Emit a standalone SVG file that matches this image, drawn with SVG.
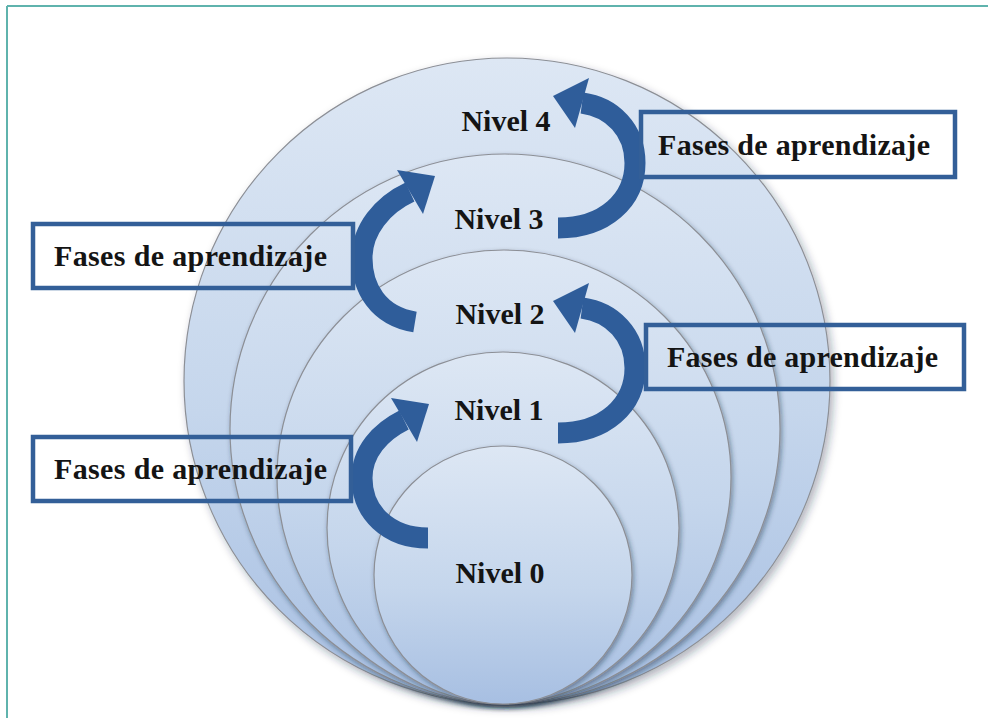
<svg xmlns="http://www.w3.org/2000/svg" width="988" height="718" viewBox="0 0 988 718">
<defs>
<linearGradient id="gFill" x1="0" y1="0" x2="0" y2="1">
<stop offset="0" stop-color="#dde7f4"/>
<stop offset="0.55" stop-color="#c5d6ec"/>
<stop offset="1" stop-color="#a7bfe2"/>
</linearGradient>
<filter id="sh" x="-10%" y="-10%" width="125%" height="125%">
<feDropShadow dx="1.5" dy="2.5" stdDeviation="2.5" flood-color="#1a2a40" flood-opacity="0.45"/>
</filter>
<filter id="shOuter" x="-10%" y="-10%" width="125%" height="125%">
<feDropShadow dx="3" dy="4" stdDeviation="4" flood-color="#1a2a40" flood-opacity="0.35"/>
</filter>
</defs>
<style>
.lvl{fill:url(#gFill);stroke:#8c8f96;stroke-width:1.2}
.box{fill:none;stroke:#335f98;stroke-width:4.5}
.shaft{fill:none;stroke:#2f5d9a;stroke-width:21}
.head{fill:#2f5d9a}
.t{font-family:"Liberation Serif","Times New Roman",serif;font-weight:bold;font-size:30px;fill:#141414}
.nv{text-anchor:middle}
</style>
<rect width="988" height="718" fill="#ffffff"/>
<g id="frame" stroke="#5fb3ad" stroke-width="2" fill="none">
<line x1="7" y1="6" x2="988" y2="6"/>
<line x1="7" y1="6" x2="7" y2="718"/>
</g>
<g id="nivel4"><circle class="lvl" cx="507" cy="381" r="323" filter="url(#shOuter)"/></g>
<g id="nivel3"><circle class="lvl" cx="505" cy="429" r="275" filter="url(#sh)"/></g>
<g id="nivel2"><circle class="lvl" cx="504" cy="477" r="227" filter="url(#sh)"/></g>
<g id="nivel1"><circle class="lvl" cx="503" cy="528" r="176" filter="url(#sh)"/></g>
<g id="nivel0"><circle class="lvl" cx="503" cy="575" r="129" filter="url(#sh)"/></g>
<g id="labels">
<text class="t nv" x="506" y="131">Nivel 4</text>
<text class="t nv" x="499" y="229">Nivel 3</text>
<text class="t nv" x="500" y="324">Nivel 2</text>
<text class="t nv" x="499" y="420">Nivel 1</text>
<text class="t nv" x="500" y="583">Nivel 0</text>
</g>
<g id="connectors">
<g id="arrow-tr">
<path class="shaft" d="M558 228 C605 228 635 200 635 163 C635 130 612 107 582 103"/>
<polygon class="head" points="589,78 553,96 575,128"/>
</g>
<g id="arrow-ml">
<path class="shaft" d="M415 322 C378 316 362 288 362 258 C362 230 382 205 410 192"/>
<polygon class="head" points="397,170 435,176 423,214"/>
</g>
<g id="arrow-mr">
<path class="shaft" d="M558 433 C605 433 635 405 635 368 C635 335 612 312 582 308"/>
<polygon class="head" points="589,283 553,301 575,333"/>
</g>
<g id="arrow-bl">
<path class="shaft" d="M428 538 C388 538 362 512 362 478 C362 452 380 432 404 420"/>
<polygon class="head" points="391,398 429,404 417,442"/>
</g>
</g>
<g id="box-tr">
<rect class="box" x="641" y="112" width="314" height="65"/>
<text class="t" x="658" y="155" textLength="272" lengthAdjust="spacing">Fases de aprendizaje</text>
</g>
<g id="box-ml">
<rect class="box" x="33" y="224" width="320" height="64"/>
<text class="t" x="54" y="266" textLength="273" lengthAdjust="spacing">Fases de aprendizaje</text>
</g>
<g id="box-mr">
<rect class="box" x="646" y="325" width="318" height="64"/>
<text class="t" x="667" y="367" textLength="271" lengthAdjust="spacing">Fases de aprendizaje</text>
</g>
<g id="box-bl">
<rect class="box" x="33" y="437" width="318" height="64"/>
<text class="t" x="54" y="479" textLength="273" lengthAdjust="spacing">Fases de aprendizaje</text>
</g>
</svg>
